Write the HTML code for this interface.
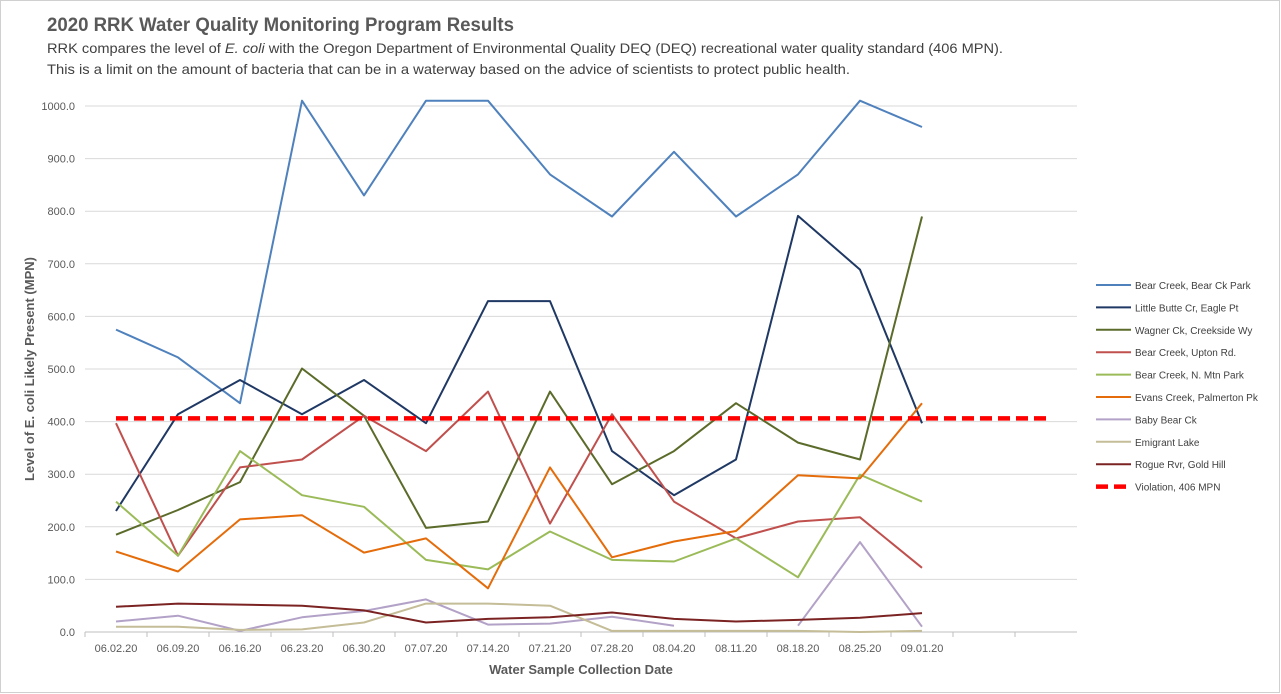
<!DOCTYPE html>
<html><head><meta charset="utf-8"><style>
body{margin:0;background:#fff;font-family:"Liberation Sans",sans-serif;}
#wrap{position:relative;width:1281px;height:694px;overflow:hidden;}
</style></head><body>
<div id="wrap">
<svg id="chart" width="1281" height="694">
<rect x="0.5" y="0.5" width="1279" height="692" fill="#fff" stroke="#d0d0d0"/>
<text x="47" y="31" font-size="19" font-weight="bold" fill="#595959" textLength="467" lengthAdjust="spacingAndGlyphs">2020 RRK Water Quality Monitoring Program Results</text>
<text x="47" y="53" font-size="14" fill="#404040" textLength="956" lengthAdjust="spacingAndGlyphs">RRK compares the level of <tspan font-style="italic">E. coli</tspan> with the Oregon Department of Environmental Quality  DEQ (DEQ) recreational water quality standard (406 MPN).</text>
<text x="47" y="74" font-size="14" fill="#404040" textLength="803" lengthAdjust="spacingAndGlyphs">This is a limit on the amount of bacteria that can be in a waterway based on the advice of scientists to protect public health.</text>
<g id="grid"></g><g id="series"></g><g id="legend"></g>
<text x="0" y="0" transform="translate(34,369) rotate(-90)" text-anchor="middle" font-size="13" font-weight="bold" fill="#595959">Level of E. coli Likely Present (MPN)</text>
<text x="581" y="674" text-anchor="middle" font-size="13" font-weight="bold" fill="#595959">Water Sample Collection Date</text>
</svg></div>
<script>
const categories=["06.02.20","06.09.20","06.16.20","06.23.20","06.30.20","07.07.20","07.14.20","07.21.20","07.28.20","08.04.20","08.11.20","08.18.20","08.25.20","09.01.20","",""];
const yTicks=[0,100,200,300,400,500,600,700,800,900,1000];
const seriesNames=["Bear Creek, Bear Ck Park","Little Butte Cr, Eagle Pt","Wagner Ck, Creekside Wy","Bear Creek, Upton Rd.","Bear Creek, N. Mtn Park","Evans Creek, Palmerton Pk","Baby Bear Ck","Emigrant Lake","Rogue Rvr, Gold Hill","Violation, 406 MPN"];
const bearCkPark=[575,522,435,1010,830,1010,1010,870,790,913,790,870,1010,960];
const littleButte=[230,414,479,414,479,397,629,629,344,260,328,791,689,397];
const wagner=[185,232,285,501,411,198,210,457,281,344,435,360,328,790];
const upton=[397,145,313,328,411,344,457,206,414,248,178,210,218,122];
const nMtn=[248,145,344,260,238,137,119,191,137,134,178,104,299,248];
const evans=[153,115,214,222,151,178,83,313,142,172,192,298,292,435];
const babyBear=[20,31,2,28,40,62,14,16,29,12,null,12,171,10];
const emigrant=[10,10,4,5,18,54,54,50,2,2,2,2,0,2];
const rogue=[48,54,52,50,41,18,25,28,37,25,20,23,27,36];
const violation=[406,406,406,406,406,406,406,406,406,406,406,406,406,406,406,406];
const colors=["#4f81bd","#1f3864","#5b6b2a","#c0504d","#9bbb59","#e46c0a","#b3a2c7","#c4bd97","#7b2323","#ff0000"];
const allSeries=[bearCkPark,littleButte,wagner,upton,nMtn,evans,babyBear,emigrant,rogue,violation];
const NS="http://www.w3.org/2000/svg";
const L=85,R=1077,T=106,B=632,YMAX=1000;
const step=(R-L)/categories.length;
function x(i){return L+step*(i+0.5);}
function y(v){return B-(v/YMAX)*(B-T);}
function mk(t,a,p){const e=document.createElementNS(NS,t);for(const k in a)e.setAttribute(k,a[k]);p.appendChild(e);return e;}
const grid=document.getElementById('grid');
yTicks.forEach(v=>{
 const l=mk('line',{x1:L,x2:R,y1:y(v),y2:y(v),stroke:v===0?'#bfbfbf':'#d9d9d9','stroke-width':1},grid);
 
 
 const t=mk('text',{x:L-10,y:y(v)+4,'text-anchor':'end','font-size':11,fill:'#595959'},grid);
 t.textContent=v.toFixed(1);
 
 
});
categories.forEach((c,i)=>{
 const tk=mk('line',{x1:L+step*i,x2:L+step*i,y1:B,y2:B+5,stroke:'#bfbfbf'},grid);
 
 
 if(!c)return;
 const t=mk('text',{x:x(i),y:B+20,'text-anchor':'middle','font-size':11,fill:'#595959'},grid);
 t.textContent=c;
 
 
});
const sg=document.getElementById('series');
allSeries.forEach((s,si)=>{
 let d='',pen=false;
 s.forEach((v,i)=>{if(v===null){pen=false;return;}d+=(pen?'L':'M')+x(i).toFixed(1)+','+y(v).toFixed(1);pen=true;});
 const isV=si===9;
 const p=mk('path',{d:d,fill:'none',stroke:colors[si],'stroke-width':isV?4.5:2,'stroke-dasharray':isV?'12 6':'none','stroke-linejoin':'round'},sg);
 
 
});
const lg=document.getElementById('legend');
seriesNames.forEach((n,i)=>{
 const yy=285+22.4*i;
 const isV=i===9;
 const l=mk('line',{x1:1096,x2:1131,y1:yy,y2:yy,stroke:colors[i],'stroke-width':isV?4.5:2,'stroke-dasharray':isV?'12 6':'none'},lg);
 
 
 const t=mk('text',{x:1135,y:yy+4,'font-size':10,fill:'#404040'},lg);
 t.textContent=n;
 
 
});
</script>
</body></html>
